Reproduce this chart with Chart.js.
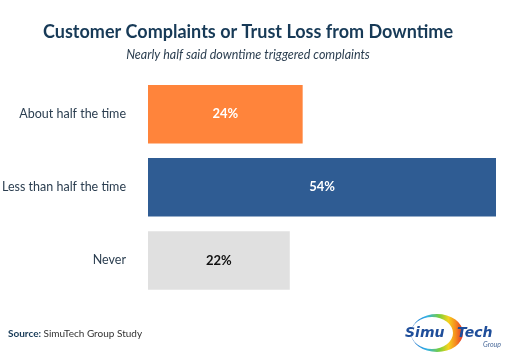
<!DOCTYPE html>
<html>
<head>
<meta charset="utf-8">
<script src="https://cdn.jsdelivr.net/npm/chart.js@4"></script>
<style>
  html, body { margin: 0; padding: 0; background: #fff; }
  #wrap { width: 511px; height: 362px; position: relative; }
</style>
</head>
<body>
<div id="wrap"><canvas id="chart"></canvas></div>
<script>
// data
const categories = ['About half the time', 'Less than half the time', 'Never'];
const shares = [24, 54, 22];
const barColors = ['#FF843B', '#2F5C93', '#E0E0E0'];
const labelColors = ['#FFFFFF', '#FFFFFF', '#111111'];

const titleText = 'Customer Complaints or Trust Loss from Downtime';
const subtitleText = 'Nearly half said downtime triggered complaints';
const sourceText = 'SimuTech Group Study';

const navy = '#173A57';
const fontFam = 'Lato, "Open Sans", sans-serif';

// value labels in the middle of each bar
const barLabels = {
  id: 'barLabels',
  afterDatasetsDraw(chart) {
    const ctx = chart.ctx;
    const meta = chart.getDatasetMeta(0);
    ctx.save();
    ctx.font = 'bold 13px ' + fontFam;
    ctx.textAlign = 'center';
    ctx.textBaseline = 'middle';
    meta.data.forEach((bar, i) => {
      const cx = (bar.x + bar.base) / 2;
      ctx.fillStyle = labelColors[i];
      ctx.fillText(shares[i] + '%', cx, bar.y);
    });
    ctx.restore();
  }
};

// source line and logo at the bottom
const footer = {
  id: 'footer',
  afterDraw(chart) {
    const ctx = chart.ctx;
    ctx.save();
    ctx.textBaseline = 'middle';
    ctx.textAlign = 'left';
    ctx.font = 'bold 10px ' + fontFam;
    ctx.fillStyle = navy;
    ctx.fillText('Source:', 8, 334);
    const w = ctx.measureText('Source: ').width;
    ctx.font = '10px ' + fontFam;
    ctx.fillStyle = '#333';
    ctx.fillText(sourceText, 8 + w, 334);

    // logo ring
    const cx = 437, cy = 333;
    const grad = ctx.createLinearGradient(cx - 26, cy, cx + 26, cy);
    grad.addColorStop(0, '#2a6fc8');
    grad.addColorStop(0.3, '#2fb0e8');
    grad.addColorStop(0.55, '#7ccf3a');
    grad.addColorStop(0.72, '#f6d21e');
    grad.addColorStop(0.86, '#f58a1f');
    grad.addColorStop(1, '#e2312a');
    ctx.beginPath();
    ctx.ellipse(cx, cy, 26, 19, 0, 0, Math.PI * 2);
    ctx.ellipse(cx - 5, cy, 21, 16, 0, Math.PI * 2, 0, true);
    ctx.fillStyle = grad;
    ctx.fill('evenodd');

    ctx.font = 'italic bold 14px "DejaVu Sans", sans-serif';
    ctx.fillStyle = '#1F4E9A';
    ctx.fillText('Simu', 405, 333);
    ctx.fillText('Tech', 457, 333);
    ctx.font = 'italic 7px ' + fontFam;
    ctx.fillStyle = '#4a6a9a';
    ctx.textAlign = 'right';
    ctx.fillText('Group', 501, 345);
    ctx.restore();
  }
};

new Chart(document.getElementById('chart'), {
  type: 'bar',
  data: {
    labels: categories,
    datasets: [{
      data: shares,
      backgroundColor: barColors,
      borderWidth: 0,
      barPercentage: 0.8,
      categoryPercentage: 1
    }]
  },
  options: {
    indexAxis: 'y',
    responsive: true,
    maintainAspectRatio: false,
    animation: false,
    layout: { padding: { left: 0, right: 15, top: 0, bottom: 65 } },
    scales: {
      x: { display: false, min: 0, max: 54 },
      y: {
        grid: { display: false },
        border: { display: false },
        ticks: {
          color: '#2B3E50',
          font: { family: fontFam, size: 12.5 },
          padding: 14
        },
        afterFit(scale) { scale.width = 148; }
      }
    },
    plugins: {
      legend: { display: false },
      tooltip: { enabled: false },
      title: {
        display: true,
        text: titleText,
        color: navy,
        font: { family: fontFam, size: 18, weight: 'bold', lineHeight: 1.2 },
        padding: { top: 21, bottom: 5 }
      },
      subtitle: {
        display: true,
        text: subtitleText,
        color: '#2B3E50',
        font: { family: fontFam, size: 12.5, style: 'italic', lineHeight: 1.2 },
        padding: { top: 0, bottom: 15 }
      }
    }
  },
  plugins: [barLabels, footer]
});
</script>
</body>
</html>
